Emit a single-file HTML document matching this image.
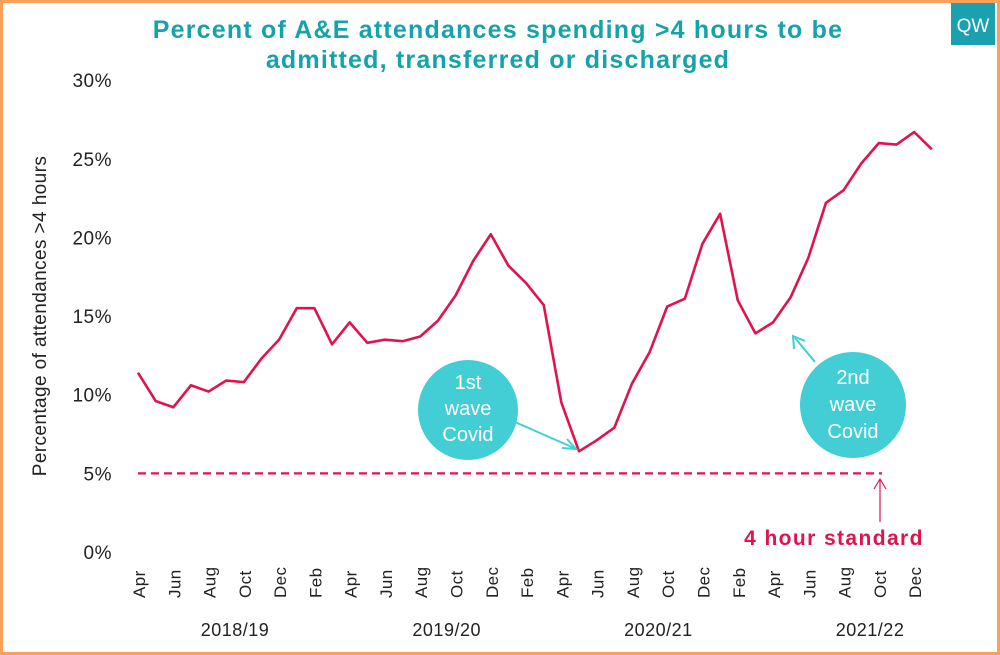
<!DOCTYPE html>
<html><head><meta charset="utf-8"><style>
body{margin:0;width:1000px;height:655px;overflow:hidden;background:#fff;font-family:"Liberation Sans",sans-serif}
#frame{position:absolute;left:0;top:0;width:994px;height:649px;border:3px solid #f7a15c;background:#fff}
</style></head><body>
<div id="frame"></div>
<svg id="c" width="1000" height="655" style="position:absolute;left:0;top:0">
<text x="498" y="38" text-anchor="middle" font-size="25" letter-spacing="1.2" font-weight="bold" fill="#14a3a8">Percent of A&amp;E attendances spending &gt;4 hours to be</text>
<text x="498" y="68" text-anchor="middle" font-size="25" letter-spacing="1.2" font-weight="bold" fill="#14a3a8">admitted, transferred or discharged</text>
<rect x="951" y="3" width="44" height="42" fill="#1aa0ae"/>
<text x="973" y="32" text-anchor="middle" font-size="19" fill="#fff">QW</text>
<text transform="translate(46,316) rotate(-90)" text-anchor="middle" font-size="19" letter-spacing="0.4" fill="#222">Percentage of attendances &gt;4 hours</text>
<g id="yt"></g><g id="xt"></g>
<line x1="138" y1="473.4" x2="882" y2="473.4" stroke="#e0134f" stroke-width="2.2" stroke-dasharray="8,5"/>
<line x1="880" y1="522" x2="880" y2="480" stroke="#e0134f" stroke-width="1.2"/>
<path d="M874,489 L880,479 L886,489" fill="none" stroke="#e0134f" stroke-width="1.2"/>
<text x="834" y="545" text-anchor="middle" font-size="21" letter-spacing="1.4" font-weight="bold" fill="#e0134f">4 hour standard</text>
<path id="ln" fill="none" stroke="#e0134f" stroke-width="2.6" stroke-linejoin="round"/>
<line x1="515" y1="422" x2="574" y2="448" stroke="#3fcfd6" stroke-width="2"/>
<path d="M562,448 L576,449 L567,439" fill="none" stroke="#3fcfd6" stroke-width="2"/>
<circle cx="468" cy="410" r="50" fill="#42ced4"/>
<text x="468" y="389" text-anchor="middle" font-size="20" fill="#fff">1st</text>
<text x="468" y="415" text-anchor="middle" font-size="20" fill="#fff">wave</text>
<text x="468" y="441" text-anchor="middle" font-size="20" fill="#fff">Covid</text>
<line x1="815" y1="362" x2="795" y2="338" stroke="#3fcfd6" stroke-width="2"/>
<path d="M794,349 L793,336 L805,341" fill="none" stroke="#3fcfd6" stroke-width="2"/>
<circle cx="853" cy="405" r="53" fill="#42ced4"/>
<text x="853" y="384" text-anchor="middle" font-size="20" fill="#fff">2nd</text>
<text x="853" y="411" text-anchor="middle" font-size="20" fill="#fff">wave</text>
<text x="853" y="438" text-anchor="middle" font-size="20" fill="#fff">Covid</text>
</svg>
<script>
const months=["Apr","May","Jun","Jul","Aug","Sep","Oct","Nov","Dec","Jan","Feb","Mar"];
const values=[11.4,9.6,9.2,10.6,10.2,10.9,10.8,12.3,13.5,15.5,15.5,13.2,14.6,13.3,13.5,13.4,13.7,14.7,16.3,18.5,20.2,18.2,17.1,15.7,9.5,6.4,7.1,7.9,10.7,12.7,15.6,16.1,19.6,21.5,16.0,13.9,14.6,16.2,18.7,22.2,23.0,24.7,26.0,25.9,26.7,25.6];
const yTicks=[0,5,10,15,20,25,30];
const years=["2018/19","2019/20","2020/21","2021/22"];
const NS="http://www.w3.org/2000/svg";
const x=i=>138+i*17.64, y=v=>552-v*15.73;
const yt=document.getElementById('yt'), xt=document.getElementById('xt');
yTicks.forEach(v=>{const t=document.createElementNS(NS,'text');


t.setAttribute('x',112);t.setAttribute('y',y(v)+7);t.setAttribute('text-anchor','end');t.setAttribute('font-size','19');t.setAttribute('letter-spacing','0.5');t.setAttribute('fill','#222');t.textContent=v+'%';yt.appendChild(t);});
values.forEach((v,i)=>{if(i%2)return;const t=document.createElementNS(NS,'text');


t.setAttribute('transform',`translate(${x(i)+7},598) rotate(-90)`);t.setAttribute('font-size','17');t.setAttribute('letter-spacing','0.4');t.setAttribute('fill','#222');t.textContent=months[i%12];xt.appendChild(t);});
years.forEach((s,k)=>{const t=document.createElementNS(NS,'text');


t.setAttribute('x',x(k*12+5.5));t.setAttribute('y',636);t.setAttribute('text-anchor','middle');t.setAttribute('font-size','18');t.setAttribute('letter-spacing','0.5');t.setAttribute('fill','#222');t.textContent=s;xt.appendChild(t);});
document.getElementById('ln').setAttribute('d',values.map((v,i)=>(i?'L':'M')+x(i)+','+y(v)).join(' '));
</script>
</body></html>
